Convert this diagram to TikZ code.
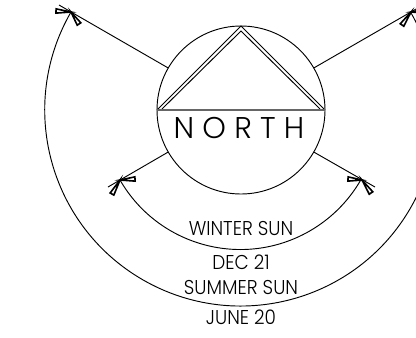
\documentclass[tikz,border=0pt]{standalone}
\usepackage{fontspec}
\setmainfont{Poppins}[UprightFont=* Light]
\usetikzlibrary{calc}

\begin{document}
\begin{tikzpicture}[
        x=.75pt, y=-.75pt,
        ln/.style={draw, line width=.7pt},
        dome/.style={circle, ln, minimum size=126pt, inner sep=0pt},
        barb/.style={ln, fill=white, line width=1.2pt, line join=miter},
        lbl/.style={inner sep=0pt, font=\fontsize{15}{16}\selectfont, xscale=.92, transform shape},
        big/.style={inner sep=0pt, font=\fontsize{22.5}{24}\selectfont}]

      \clip (0,0) rectangle (416,337);

      \node[dome] (sky) at (241,110) {};

      % roof
      \coordinate (apex) at (241,26);
      \coordinate (eaveW) at (157,110);
      \coordinate (eaveE) at (325,110);
      \draw[ln] (eaveW) -- (apex) -- (eaveE);
      \draw[ln] (162,109) -- (241,31) -- (320,109);
      \draw[line width=1.3pt, black!60] (eaveW) -- (eaveE);

      \node[big] (north) at (239,128) {N O R T H};

      % sun rays
      \coordinate (tipSW) at (120,180);
      \coordinate (tipSE) at (362,180);
      \coordinate (tipNW) at (71,12);
      \coordinate (tipNE) at (411,12);
      \coordinate (endSW) at (108,187);
      \coordinate (endSE) at (375,187);
      \coordinate (endNW) at (59,5);
      \coordinate (endNE) at (423,5);
      \draw[ln] (sky.210) -- (endSW);
      \draw[ln] (sky.330) -- (endSE);
      \draw[ln] (sky.150) -- (endNW);
      \draw[ln] (sky.30) -- (endNE);

      % sun paths
      \draw[ln] (tipSW) arc[start angle=150, end angle=30, radius=139];
      \draw[ln] (tipNW) arc[start angle=210, end angle=-30, radius=196];

      % barbs
      \foreach \tip/\a/\b in {tipSW/135/179, tipSE/348/179, tipNW/56/11, tipNE/426/11} {
        \draw[barb] (\tip) -- ($(\a,\b)!1.6pt!90:(\tip)$) -- ($(\a,\b)!1.6pt!-90:(\tip)$) -- cycle;
      }
      \foreach \tip/\a/\b in {tipSW/112/194, tipSE/371/193, tipNW/79/24, tipNE/402/25} {
        \draw[barb] (\tip) -- ($(\a,\b)!1.6pt!90:(\tip)$) -- ($(\a,\b)!1.6pt!-90:(\tip)$) -- cycle;
      }

      \node[lbl] (winter) at (241,228) {WINTER SUN};
      \node[lbl] (dec) at (241,262) {DEC 21};
      \node[lbl] (summer) at (241,287) {SUMMER SUN};
      \node[lbl] (june) at (241,317) {JUNE 20};
    \end{tikzpicture}
\end{document}
